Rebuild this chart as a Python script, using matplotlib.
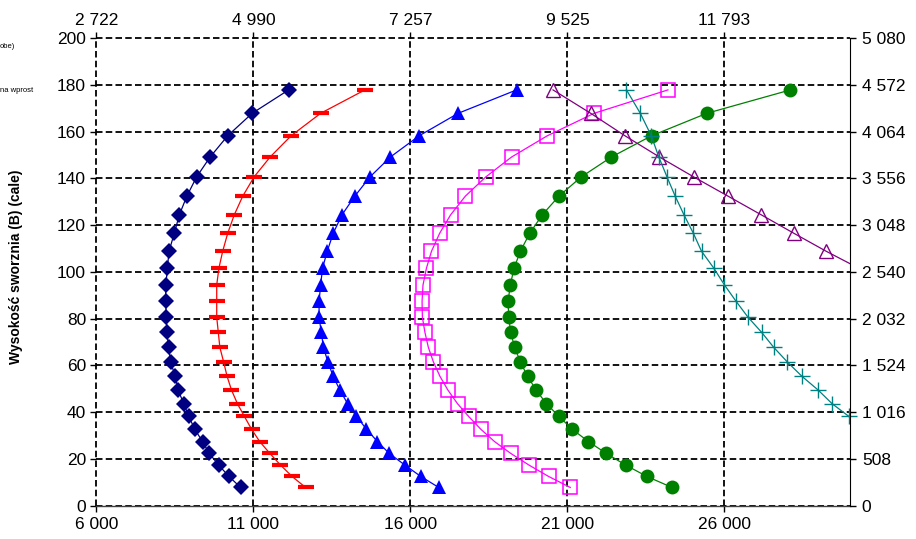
import matplotlib
matplotlib.use("Agg")
import matplotlib.pyplot as plt
from matplotlib.ticker import FixedLocator, FuncFormatter

plt.rcParams['font.family'] = ['Liberation Sans', 'DejaVu Sans']

# wysokość sworznia (cale), wspólna dla wszystkich serii
heights = [177.8, 167.8, 158.2, 149.1, 140.6, 132.4, 124.4, 116.5, 108.8, 101.6,
           94.4, 87.4, 80.6, 74.2, 67.7, 61.5, 55.3, 49.5, 43.6, 38.2,
           32.7, 27.4, 22.4, 17.4, 12.5, 7.8]

# obciążenie (lbs) dla kolejnych serii
s_diamond = [12120, 10960, 10180, 9620, 9190, 8880, 8640, 8480, 8310, 8260,
             8210, 8200, 8230, 8240, 8300, 8360, 8510, 8600, 8780, 8940,
             9130, 9380, 9590, 9890, 10220, 10590]
s_dash = [14550, 13140, 12200, 11530, 11020, 10660, 10390, 10180, 10020, 9900,
          9830, 9830, 9830, 9880, 9930, 10050, 10160, 10300, 10490, 10710,
          10940, 11200, 11520, 11860, 12230, 12660]
s_triangle = [19380, 17520, 16280, 15360, 14710, 14230, 13820, 13540, 13350, 13200,
              13140, 13090, 13090, 13160, 13230, 13370, 13540, 13750, 14000, 14280,
              14600, 14950, 15320, 15820, 16330, 16900]
s_square = [24200, 21850, 20360, 19220, 18400, 17750, 17280, 16930, 16670, 16510,
            16400, 16370, 16380, 16460, 16570, 16730, 16940, 17190, 17500, 17850,
            18240, 18680, 19190, 19770, 20400, 21090]
s_circle = [28100, 25440, 23680, 22400, 21440, 20730, 20200, 19800, 19500, 19300,
            19180, 19110, 19130, 19190, 19320, 19500, 19730, 20000, 20330, 20730,
            21150, 21670, 22230, 22850, 23530, 24330]
s_open_tri = [20540, 21740, 22830, 23930, 25020, 26110, 27170, 28210, 29240, 30270]
s_plus = [22880, 23320, 23670, 23910, 24170, 24430, 24710, 25010, 25270, 25660,
          26000, 26370, 26750, 27180, 27570, 28000, 28470, 28980, 29430, 29960]

x_ticks = [6000, 11000, 16000, 21000, 26000]
x_top_labels = ["2 722", "4 990", "7 257", "9 525", "11 793"]
y_ticks = [0, 20, 40, 60, 80, 100, 120, 140, 160, 180, 200]
y_right_labels = ["0", "508", "1 016", "1 524", "2 032", "2 540", "3 048",
                  "3 556", "4 064", "4 572", "5 080"]

X_MIN, X_MAX = 6000, 30000

fig = plt.figure(figsize=(9.16, 5.39), dpi=100)
ax = fig.add_axes([0.1053, 0.0618, 0.8227, 0.8677])

series = [
    (s_diamond, dict(color='#000080', marker='D', ms=8.5, mfc='#000080', mew=0)),
    (s_dash, dict(color='#FF0000', marker='_', ms=12, mew=3)),
    (s_triangle, dict(color='#0000FF', marker='^', ms=10, mfc='#0000FF', mew=0)),
    (s_square, dict(color='#FF00FF', marker='s', ms=10, mfc='none', mew=1.1)),
    (s_circle, dict(color='#008000', marker='o', ms=10, mfc='#008000', mew=0)),
    (s_open_tri, dict(color='#800080', marker='^', ms=10, mfc='none', mew=1.0)),
    (s_plus, dict(color='#008080', marker='+', ms=11, mew=1.0)),
]

for i, (xs, st) in enumerate(series):
    ys = heights[:len(xs)]
    ax.plot(xs, ys, color=st['color'], lw=0.9, zorder=3 + i)
    # punkty poza osią nie są rysowane
    mx = [x for x in xs if x <= X_MAX]
    my = ys[:len(mx)]
    ax.plot(mx, my, linestyle='none', clip_on=False, zorder=3 + i, **st)

ax.set_xlim(X_MIN, X_MAX)
ax.set_ylim(0, 200)
ax.xaxis.set_major_locator(FixedLocator(x_ticks))
ax.yaxis.set_major_locator(FixedLocator(y_ticks))
ax.xaxis.set_major_formatter(FuncFormatter(lambda v, p: f"{v:,.0f}".replace(",", " ")))

ax.grid(True, color='black', linestyle=(0, (3.6, 1.8)), linewidth=1.3, zorder=1)
ax.set_axisbelow(True)
# linie siatki na krawędziach (6 000 i 200) w pełnej grubości
for gl in ax.get_xgridlines() + ax.get_ygridlines():
    gl.set_clip_on(False)

for side in ('top', 'left', 'right'):
    ax.spines[side].set_visible(False)
ax.spines['bottom'].set_color('#404040')
ax.spines['bottom'].set_linewidth(1.0)

ax.tick_params(axis='both', direction='out', length=4.5, width=1, labelsize=12.5, pad=3)
ax.tick_params(axis='x', pad=4)

ax.set_ylabel("Wysokość sworznia (B) (cale)", fontweight='bold', fontsize=10)
ax.yaxis.set_label_coords(-0.097, 0.51)

# oś górna (kg) i prawa (mm)
axt = ax.twiny()
axt.set_xlim(ax.get_xlim())
axt.xaxis.set_major_locator(FixedLocator(x_ticks))
axt.set_xticklabels(x_top_labels)
axt.tick_params(axis='x', direction='out', length=4.5, width=1, labelsize=12.5, pad=3)

axr = ax.twinx()
axr.set_ylim(ax.get_ylim())
axr.yaxis.set_major_locator(FixedLocator(y_ticks))
axr.set_yticklabels(y_right_labels)
axr.tick_params(axis='y', direction='out', length=4.5, width=1, labelsize=12.5, pad=4)

for a in (axt, axr):
    a.spines['top'].set_visible(False)
    a.spines['left'].set_visible(False)
    a.spines['bottom'].set_visible(False)
axr.spines['right'].set_color('black')
axt.spines['right'].set_visible(False)

# resztki legendy przy lewej krawędzi
fig.text(0.0, 1 - 47 / 539, "obe)", fontsize=5.5, va='center', ha='left')
fig.text(0.0, 1 - 90 / 539, "na wprost", fontsize=5.5, va='center', ha='left')

fig.savefig("out.png", dpi=100)
